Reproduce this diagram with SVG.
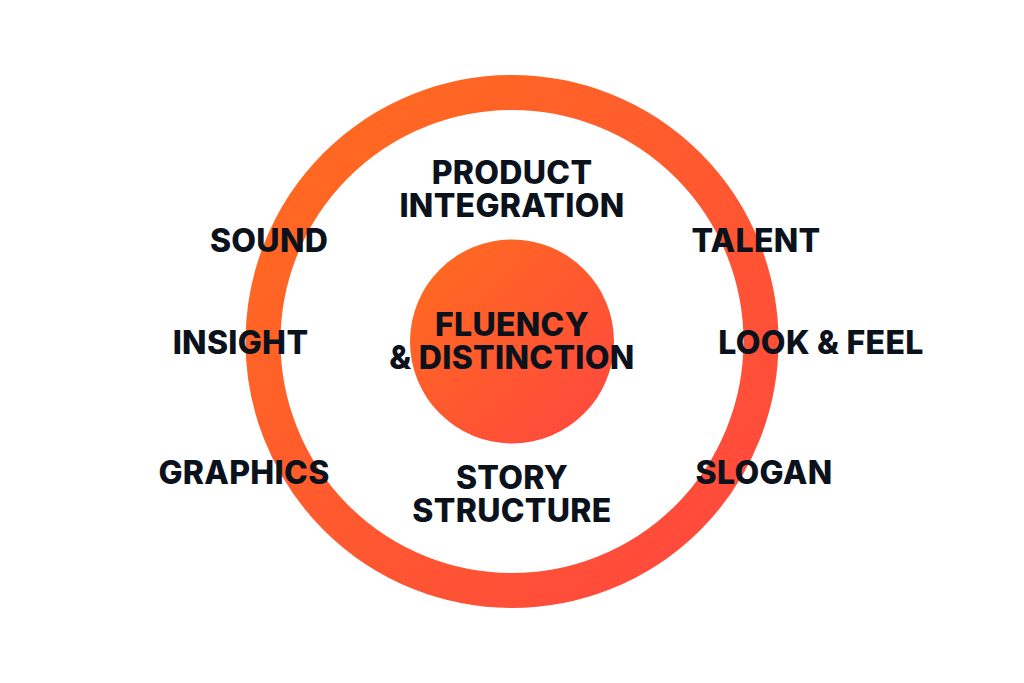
<svg xmlns="http://www.w3.org/2000/svg" width="1024" height="683" viewBox="0 0 1024 683">
<defs>
<linearGradient id="g" x1="0" y1="0" x2="1" y2="1">
<stop offset="0" stop-color="#FF6D1D"/>
<stop offset="1" stop-color="#FF4640"/>
</linearGradient>
<linearGradient id="gr" gradientUnits="userSpaceOnUse" x1="260" y1="90" x2="760" y2="600">
<stop offset="0" stop-color="#FF6D1D"/>
<stop offset="1" stop-color="#FF4640"/>
</linearGradient>
<style>
.t{font-family:Inter,"Liberation Sans",sans-serif;font-weight:800;font-size:32px;fill:#0B121C;text-anchor:middle;letter-spacing:0.3px}
</style>
</defs>
<rect width="1024" height="683" fill="#fff"/>
<g id="ring"><circle cx="512" cy="341.5" r="249" fill="none" stroke="url(#gr)" stroke-width="35"/></g>
<g id="core"><circle cx="512" cy="341.5" r="102" fill="url(#g)"/>
<text class="t"><tspan x="512" y="336">FLUENCY</tspan><tspan x="512" y="369">&amp; DISTINCTION</tspan></text></g>
<g id="product"><text class="t"><tspan x="512" y="184">PRODUCT</tspan><tspan x="512" y="217">INTEGRATION</tspan></text></g>
<g id="story"><text class="t"><tspan x="512" y="489">STORY</tspan><tspan x="512" y="522">STRUCTURE</tspan></text></g>
<g id="sound"><text class="t" x="269" y="252">SOUND</text></g>
<g id="insight"><text class="t" x="240.5" y="354">INSIGHT</text></g>
<g id="graphics"><text class="t" x="244" y="484">GRAPHICS</text></g>
<g id="talent"><text class="t" x="756" y="252">TALENT</text></g>
<g id="lookfeel"><text class="t" x="821" y="354">LOOK &amp; FEEL</text></g>
<g id="slogan"><text class="t" x="764" y="484">SLOGAN</text></g>
<g id="connectors"/>
</svg>
